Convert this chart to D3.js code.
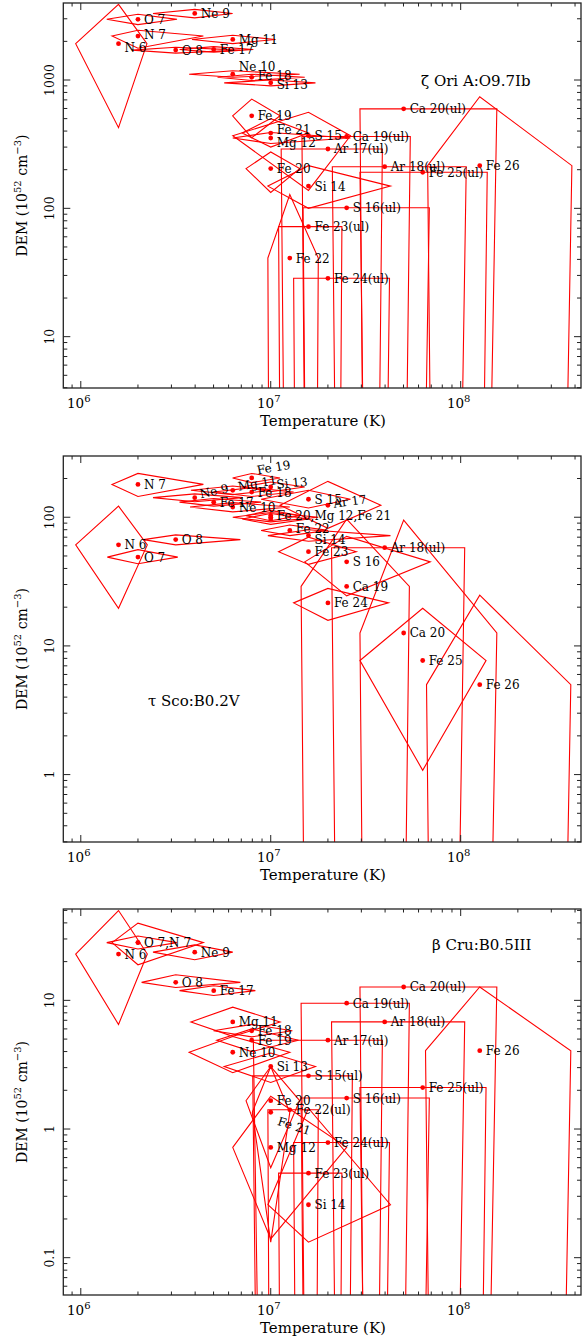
<!DOCTYPE html>
<html>
<head>
<meta charset="utf-8">
<script src="https://cdn.jsdelivr.net/npm/d3@7"></script>
<style>
  body { margin: 0; background: #fff; }
  text { font-family: "DejaVu Serif", serif; fill: #000; }
</style>
</head>
<body>
<script>
// Each row: label, T (K), DEM (1e52 cm^-3), T low, T high, DEM low, DEM high
// DEM low = null means no lower bound (the polygon runs off the bottom)
var zetaOri = [
  ["N 6", 1.58e6, 1920, 9.4e5, 2.23e6, 425, 3880],
  ["O 7", 2.0e6, 2970, 1.37e6, 3.21e6, 2700, 3250],
  ["N 7", 2.0e6, 2200, 1.46e6, 4.42e6, 1770, 2440],
  ["Ne 9", 3.98e6, 3300, 2.4e6, 6.3e6, 3050, 3550],
  ["Mg 11", 6.31e6, 2070, 3.85e6, 1.06e7, 1920, 2230],
  ["O 8", 3.16e6, 1710, 1.86e6, 6.92e6, 1620, 1800],
  ["Fe 17", 5.01e6, 1730, 3.31e6, 8.1e6, 1650, 1820],
  ["Ne 10", 6.31e6, 1110, 3.72e6, 1.42e7, 1050, 1180],
  ["Fe 18", 7.94e6, 1050, 5.25e6, 1.51e7, 990, 1110],
  ["Si 13", 1.0e7, 950, 5.69e6, 1.72e7, 900, 1000],
  ["Fe 19", 7.94e6, 526, 6.3e6, 1.12e7, 355, 710],
  ["Fe 21", 1.0e7, 386, 7.08e6, 1.58e7, 300, 500],
  ["Mg 12", 1.0e7, 353, 6.31e6, 2.63e7, 320, 390],
  ["S 15", 1.58e7, 368, 6.31e6, 2.63e7, 138, 560],
  ["Fe 20", 1.0e7, 204, 7.41e6, 1.42e7, 133, 275],
  ["Ca 20(ul)", 5.01e7, 596, 2.95e7, 1.55e8, null, 596],
  ["Ca 19(ul)", 2.51e7, 363, 1.46e7, 5.43e7, null, 363],
  ["Ar 17(ul)", 2.0e7, 290, 1.135e7, 3.87e7, null, 290],
  ["Ar 18(ul)", 3.98e7, 211, 2.11e7, 1.07e8, null, 211],
  ["Fe 26", 1.26e8, 215, 6.7e7, 3.85e8, null, 740],
  ["Fe 25(ul)", 6.31e7, 191, 2.95e7, 1.38e8, null, 191],
  ["Si 14", 1.58e7, 149, 9.66e6, 4.27e7, 100, 215],
  ["S 16(ul)", 2.51e7, 101, 1.48e7, 6.84e7, null, 101],
  ["Fe 23(ul)", 1.58e7, 72, 1.10e7, 2.37e7, null, 72],
  ["Fe 22", 1.26e7, 41, 9.66e6, 1.78e7, null, 128],
  ["Fe 24(ul)", 2.0e7, 28.5, 1.32e7, 4.22e7, null, 28.5]
];

var tauSco = [
  ["N 7", 2.0e6, 180, 1.46e6, 4.42e6, 145, 219],
  ["N 6", 1.58e6, 61, 9.4e5, 2.24e6, 19.6, 122],
  ["O 8", 3.16e6, 67, 2.14e6, 6.92e6, 61, 73],
  ["O 7", 2.0e6, 49, 1.38e6, 3.24e6, 43.5, 56],
  ["Ne 9", 3.98e6, 142, 2.4e6, 7.1e6, 132, 152],
  ["Fe 17", 5.01e6, 131, 3.31e6, 8.9e6, 122, 140],
  ["Mg 11", 6.31e6, 162, 3.8e6, 1.0e7, 150, 175],
  ["Ne 10", 6.31e6, 120, 3.76e6, 1.26e7, 110, 130],
  ["Fe 19", 7.94e6, 202, 6.3e6, 1.12e7, 186, 219],
  ["Fe 18", 7.94e6, 157, 5.0e6, 1.32e7, 145, 170],
  ["Si 13", 1.0e7, 172, 7.08e6, 1.51e7, 158, 188],
  ["Fe 20,Mg 12,Fe 21", 1.0e7, 103, 7.41e6, 1.42e7, 94, 113],
  ["", 1.0e7, 100, 6.31e6, 1.78e7, 92, 109],
  ["", 1.0e7, 97, 7.08e6, 1.58e7, 88, 107],
  ["S 15", 1.58e7, 138, 8.9e6, 2.63e7, 118, 162],
  ["Ar 17", 2.0e7, 124, 1.12e7, 3.8e7, 82, 190],
  ["Fe 22", 1.26e7, 79, 8.9e6, 2.0e7, 72, 87],
  ["Si 14", 1.58e7, 72, 9.66e6, 4.27e7, 65, 80],
  ["Fe 23", 1.58e7, 54, 1.10e7, 2.82e7, 43, 70],
  ["Ar 18(ul)", 3.98e7, 58, 2.09e7, 1.05e8, null, 58],
  ["S 16", 2.51e7, 45, 1.51e7, 6.92e7, 24.5, 71],
  ["Ca 19", 2.51e7, 29, 1.445e7, 5.37e7, null, 96.6],
  ["Fe 24", 2.0e7, 21.6, 1.32e7, 4.17e7, 15.8, 28],
  ["Ca 20", 5.01e7, 12.6, 2.95e7, 1.55e8, null, 95],
  ["Fe 25", 6.31e7, 7.7, 2.95e7, 1.36e8, 1.08, 19.6],
  ["Fe 26", 1.26e8, 5.0, 6.61e7, 3.8e8, null, 24.8]
];

var betaCru = [
  ["O 7,N 7", 2.0e6, 28.1, 1.37e6, 3.21e6, 25.1, 31.6],
  ["", 2.0e6, 28.1, 1.46e6, 4.42e6, 18.9, 39.8],
  ["N 6", 1.58e6, 22.9, 9.4e5, 2.24e6, 6.5, 49.9],
  ["Ne 9", 3.98e6, 23.7, 2.4e6, 6.31e6, 20.7, 27],
  ["O 8", 3.16e6, 13.8, 2.09e6, 6.92e6, 12.6, 15.8],
  ["Fe 17", 5.01e6, 11.9, 3.31e6, 8.3e6, 10.9, 13],
  ["Mg 11", 6.31e6, 6.8, 3.8e6, 1.12e7, 5.25, 8.85],
  ["Fe 18", 7.94e6, 5.8, 5.0e6, 1.3e7, 5.2, 6.5],
  ["Fe 19", 7.94e6, 4.9, 5.2e6, 1.4e7, 4.0, 6.0],
  ["Ne 10", 6.31e6, 3.95, 3.72e6, 1.26e7, 2.74, 5.24],
  ["Si 13", 1.0e7, 3.06, 5.69e6, 1.72e7, 2.3, 3.9],
  ["Fe 20", 1.0e7, 1.66, 7.41e6, 1.42e7, 0.5, 3.06],
  ["Fe 21", 1.0e7, 1.35, 8.0e6, 1.26e7, 0.132, 3.06],
  ["Mg 12", 1.0e7, 0.72, 6.31e6, 2.51e7, 0.14, 1.8],
  ["Si 14", 1.58e7, 0.258, 9.66e6, 4.27e7, 0.132, 1.45],
  ["Ca 20(ul)", 5.01e7, 12.7, 2.95e7, 1.55e8, null, 12.7],
  ["Ca 19(ul)", 2.51e7, 9.5, 1.445e7, 5.37e7, null, 9.5],
  ["Ar 18(ul)", 3.98e7, 6.8, 2.09e7, 1.05e8, null, 6.8],
  ["Ar 17(ul)", 2.0e7, 4.9, 8.1e6, 3.87e7, null, 4.9],
  ["Fe 26", 1.26e8, 4.06, 6.53e7, 3.8e8, null, 12.7],
  ["S 15(ul)", 1.58e7, 2.59, 8.04e6, 2.69e7, null, 2.59],
  ["Fe 25(ul)", 6.31e7, 2.1, 2.95e7, 1.36e8, null, 2.1],
  ["S 16(ul)", 2.51e7, 1.74, 1.445e7, 6.84e7, null, 1.74],
  ["Fe 22(ul)", 1.26e7, 1.41, 9.66e6, 1.78e7, null, 1.41],
  ["Fe 24(ul)", 2.0e7, 0.785, 1.32e7, 4.22e7, null, 0.785],
  ["Fe 23(ul)", 1.58e7, 0.454, 1.10e7, 2.37e7, null, 0.454]
];

var xMajorExp = [6, 7, 8];
var yTickZeta = ["10", "100", "1000"];
var yTickTau = ["1", "10", "100"];
var yTickBeta = ["0.1", "1", "10"];
var starNames = ["\u03b6 Ori A:O9.7Ib", "\u03c4 Sco:B0.2V", "\u03b2 Cru:B0.5III"];

// label placement tweaks per panel: [dx, dy, rotation]
var nudges = [
  { "Ne 10": [0, -8, 0], "Fe 18": [0, -2, 0], "Si 13": [0, 2, 0], "Fe 21": [0, -4, 0],
    "Mg 12": [0, 4, 0], "N 6": [0, 4, 0], "N 7": [0, -2, 0] },
  { "Ne 9": [0, -4, -12], "Mg 11": [0, -4, -10], "Fe 19": [0, -8, -10], "Si 13": [0, -3, -5],
    "Ar 17": [0, -2, -8], "Fe 22": [0, -2, 0], "Si 14": [0, 4, 0] },
  { "Fe 21": [0, 8, 18] }
];

var width = 582, height = 1339;
var left = 63.3, right = 581;
var FLOOR = 1e-38; // stands in for "no lower limit"

var svg = d3.select("body").append("svg")
  .attr("width", width)
  .attr("height", height);

var x = d3.scaleLog().domain([8.09e5, 4.3e8]).range([left, right]);

var panels = [
  { rows: zetaOri, ticks: yTickZeta, dom: [Math.pow(10, 0.6), Math.pow(10, 3.6)], top: 3, bottom: 388,
    name: starNames[0], nx: 421, ny: 86 },
  { rows: tauSco, ticks: yTickTau, dom: [Math.pow(10, -0.524), Math.pow(10, 2.476)], top: 456, bottom: 842,
    name: starNames[1], nx: 148, ny: 706 },
  { rows: betaCru, ticks: yTickBeta, dom: [Math.pow(10, -1.29), Math.pow(10, 1.71)], top: 909, bottom: 1295,
    name: starNames[2], nx: 432, ny: 950 }
];

panels.forEach(function(p, i) {
  var y = d3.scaleLog().domain(p.dom).range([p.bottom, p.top]);
  var g = svg.append("g");
  var nd = nudges[i];

  g.append("clipPath").attr("id", "clip" + i)
    .append("rect")
    .attr("x", left).attr("y", p.top)
    .attr("width", right - left).attr("height", p.bottom - p.top);

  // error polygons
  var line = d3.line().x(function(d) { return x(d[0]); }).y(function(d) { return y(d[1]); });
  g.append("g").attr("clip-path", "url(#clip" + i + ")")
    .selectAll("path")
    .data(p.rows)
    .enter().append("path")
    .attr("d", function(r) {
      var lo = r[5] === null ? FLOOR : r[5];
      return line([[r[3], r[2]], [r[1], r[6]], [r[4], r[2]], [r[1], lo]]) + "Z";
    })
    .attr("fill", "none")
    .attr("stroke", "#ff0000")
    .attr("stroke-width", 1.1);

  // dots
  g.selectAll("circle")
    .data(p.rows)
    .enter().append("circle")
    .attr("cx", function(r) { return x(r[1]); })
    .attr("cy", function(r) { return y(r[2]); })
    .attr("r", 2.4)
    .attr("fill", "#ff0000");

  // ion labels
  g.selectAll("text.ion")
    .data(p.rows.filter(function(r) { return r[0] !== ""; }))
    .enter().append("text")
    .attr("class", "ion")
    .attr("transform", function(r) {
      var n = nd[r[0]] || [0, 0, 0];
      var lx = x(r[1]) + 6 + n[0], ly = y(r[2]) + 4.5 + n[1];
      return "translate(" + lx + "," + ly + ") rotate(" + n[2] + ")";
    })
    .attr("font-size", 12)
    .text(function(r) { return r[0]; });

  // frame
  g.append("rect")
    .attr("x", left).attr("y", p.top)
    .attr("width", right - left).attr("height", p.bottom - p.top)
    .attr("fill", "none").attr("stroke", "#222").attr("stroke-width", 1.3);

  // x ticks (top and bottom, pointing inward)
  var xt = [];
  for (var e = 5; e <= 8; e++) {
    for (var k = 1; k <= 9; k++) {
      var v = k * Math.pow(10, e);
      if (v >= x.domain()[0] && v <= x.domain()[1]) xt.push({ v: v, major: k === 1 });
    }
  }
  xt.forEach(function(t) {
    var len = t.major ? 7 : 3.5;
    g.append("line").attr("x1", x(t.v)).attr("x2", x(t.v))
      .attr("y1", p.bottom).attr("y2", p.bottom - len)
      .attr("stroke", "#222").attr("stroke-width", 1);
    g.append("line").attr("x1", x(t.v)).attr("x2", x(t.v))
      .attr("y1", p.top).attr("y2", p.top + len)
      .attr("stroke", "#222").attr("stroke-width", 1);
  });

  // y ticks
  var yt = [];
  for (var e2 = -3; e2 <= 4; e2++) {
    for (var k2 = 1; k2 <= 9; k2++) {
      var v2 = k2 * Math.pow(10, e2);
      if (v2 >= p.dom[0] && v2 <= p.dom[1]) yt.push({ v: v2, major: k2 === 1 });
    }
  }
  yt.forEach(function(t) {
    var len = t.major ? 7 : 4;
    g.append("line").attr("x1", left).attr("x2", left + len)
      .attr("y1", y(t.v)).attr("y2", y(t.v))
      .attr("stroke", "#222").attr("stroke-width", 1);
    g.append("line").attr("x1", right).attr("x2", right - len)
      .attr("y1", y(t.v)).attr("y2", y(t.v))
      .attr("stroke", "#222").attr("stroke-width", 1);
  });

  // y tick labels (rotated)
  p.ticks.forEach(function(s) {
    g.append("text")
      .attr("transform", "translate(54," + y(+s) + ") rotate(-90)")
      .attr("text-anchor", "middle")
      .attr("font-size", 12.5)
      .text(s);
  });

  // x tick labels 10^n
  xMajorExp.forEach(function(n) {
    var t = g.append("text")
      .attr("x", x(Math.pow(10, n)) - 2)
      .attr("y", p.bottom + 20)
      .attr("text-anchor", "middle")
      .attr("font-size", 13.5);
    t.append("tspan").text("10");
    t.append("tspan").attr("dy", -6).attr("font-size", 10).text(n);
  });

  // axis titles
  g.append("text")
    .attr("x", 323)
    .attr("y", p.bottom + 38)
    .attr("text-anchor", "middle")
    .attr("font-size", 15)
    .text("Temperature (K)");

  var yl = g.append("text")
    .attr("transform", "translate(27," + ((p.top + p.bottom) / 2) + ") rotate(-90)")
    .attr("text-anchor", "middle")
    .attr("font-size", 14);
  yl.append("tspan").text("DEM (10");
  yl.append("tspan").attr("dy", -6).attr("font-size", 10).text("52");
  yl.append("tspan").attr("dy", 6).text(" cm");
  yl.append("tspan").attr("dy", -6).attr("font-size", 10).text("\u22123");
  yl.append("tspan").attr("dy", 6).text(")");

  // star name
  g.append("text")
    .attr("x", p.nx).attr("y", p.ny)
    .attr("font-size", 15)
    .text(p.name);
});
</script>
</body>
</html>
